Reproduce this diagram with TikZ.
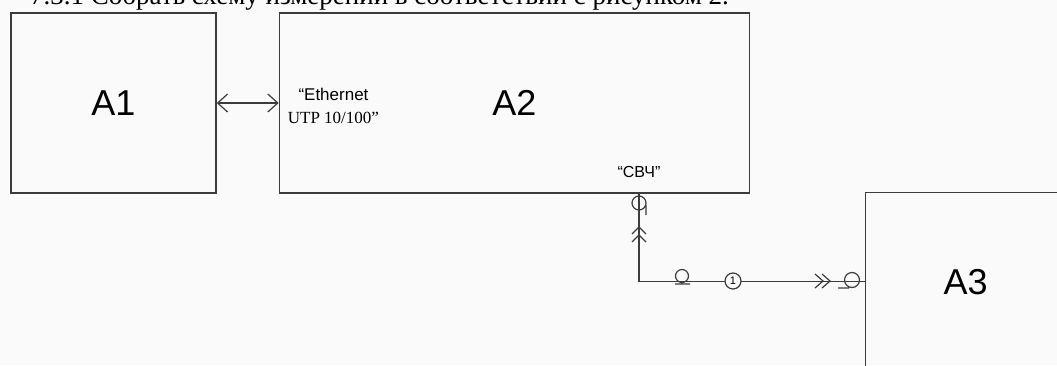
\documentclass[tikz,border=0pt]{standalone}
\usepackage{fontspec}
\setmainfont{Liberation Serif}
\setsansfont{Liberation Sans}
\usetikzlibrary{arrows.meta,positioning,calc}
\definecolor{ink}{HTML}{3C3C3C}
\definecolor{paper}{HTML}{FAFAFA}

\begin{document}
\begin{tikzpicture}[x=1pt,y=-1pt,
 unit/.style={draw=ink,line width=1.4pt,font=\sffamily\fontsize{36}{40}\selectfont,
              minimum height=180pt,inner sep=0pt},
 port/.style={font=\fontsize{17}{23}\selectfont,inner sep=0pt,align=center},
 wire/.style={draw=ink,line width=1.2pt},
 arrow/.style={wire,{Straight Barb[length=10pt,width=18pt]}-{Straight Barb[length=10pt,width=18pt]}}]
\useasboundingbox[fill=paper] (0,0) rectangle (1057,365);
\clip (0,0) rectangle (1057,365);
\node[anchor=base west,font=\fontsize{27}{30}\selectfont,inner sep=0pt] (title) at (30,4)
  {7.3.1 Собрать схему измерений в соответствии с рисунком 2.};
\node[unit,minimum width=205pt] (a1) at (113.5,103) {A1};
\node[unit,minimum width=470pt,right=62pt of a1] (a2) {A2};
\node[unit,minimum width=200pt,minimum height=178pt,anchor=north west] (a3) at (865,192) {A3};
\node[port,anchor=north west] (eth) at ($(a2.west)+(9,-15.5)$)
  {{\sffamily “Ethernet}\\UTP 10/100”};
\node[port,font=\sffamily\fontsize{16}{18}\selectfont] (svch) at (639,172) {“СВЧ”};
\draw[arrow] (a1)--(a2);
\draw[wire] (a2.south -| svch) |- (a3.west);
% connector on A2
\draw[wire] (639,203) circle (7pt) (646,205)--(646,215);
\draw[wire] (632,234)--(639,227)--(646,234) (632,242)--(639,235)--(646,242);
% cable 1
\draw[wire] (682,276) circle (6.5pt) (675,284)--(690,284);
\node[draw=ink,circle,fill=paper,line width=1.2pt,inner sep=0pt,minimum size=16pt,
      font=\sffamily\fontsize{11}{11}\selectfont] (n1) at (733,281) {1};
% connector on A3
\draw[wire] (815,274)--(823,281)--(815,288) (822,274)--(830,281)--(822,288);
\draw[wire] (852,280) circle (7.5pt) (838,288)--(849,288);
\end{tikzpicture}
\end{document}
